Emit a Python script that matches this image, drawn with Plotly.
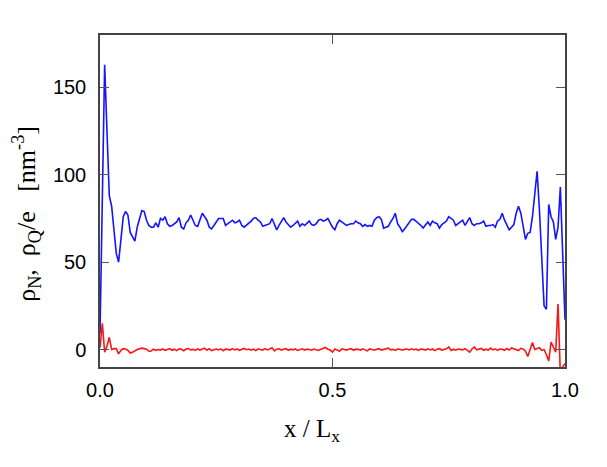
import plotly.graph_objects as go

# Number of bins along x / L_x
n_bins = 200
x_pos = [i / n_bins for i in range(n_bins + 1)]

# rho_N (blue)
rho_N = [
    9, 80, 163, 125, 88, 82, 68, 55, 50, 62,
    76, 79, 77, 67, 64, 62, 70, 75, 79.5, 79,
    74, 71, 70, 70, 72.5, 70, 75, 74, 76, 72,
    70.5, 71, 72, 73, 75.5, 70, 69, 72.5, 74, 77,
    74, 71, 70.5, 74, 78, 76, 74, 70, 69, 71,
    73, 75, 75, 75, 71, 72, 73, 74, 72.5, 73,
    74, 71, 70, 71, 72, 73.5, 75, 75.5, 74, 73,
    70.5, 71, 71.5, 72, 75, 72, 68.5, 71, 73, 75.5,
    73, 71.5, 70, 71, 72, 73.5, 70.5, 72, 71, 72.5,
    73.5, 71.5, 71, 72, 74, 74.5, 73.5, 74, 75, 72.5,
    70, 68.5, 72, 74, 73, 72, 71, 71.5, 72, 72,
    73.5, 72.5, 72, 70.5, 71.5, 70.5, 71, 70.5, 74, 75.5,
    76, 74.5, 69.5, 70, 70.5, 73, 75, 78, 72, 70,
    67.5, 69, 71, 73, 74.5, 74.5, 73.5, 72, 71, 69.5,
    71, 73, 71, 73.5, 72.5, 72, 69.5, 71.5, 72.5, 73.5,
    76, 75, 74, 71, 72, 72.5, 74, 71, 73, 75.5,
    72, 71, 72, 72, 72.5, 73.5, 70.5, 71, 71, 71.5,
    70, 73.5, 74.5, 78, 74, 71, 68.5, 70, 71.5, 78,
    82, 78, 70, 63, 66.5, 67, 76, 88, 102, 80,
    52, 25, 23, 83, 76, 73, 63, 70, 93, 55,
    17,
]

# rho_Q / e (red)
rho_Q = [
    1, 15, -1.5, 2, 7, 0, 0.5, 0.5, -2.5, -0.5,
    0.5, 0.3, -0.5, -2, -1.5, -0.5, 0, 0.5, 0.8, 0.5,
    0.2, -1, -0.8, 0.2, -0.5, 0, -0.3, 0.3, -0.5, 0,
    0.5, -0.4, 0.2, -0.6, 0.4, 0.1, -0.7, 0.3, 0.6, -0.2,
    0.1, -0.5, 0.4, -0.3, 0.2, 0.8, -0.4, 0.5, -0.6, 0,
    0.3, -0.2, 0.4, -0.7, 0.2, 0.1, -0.3, 0.5, -0.2, 0.3,
    -0.5, 0.2, 0.6, -0.1, 0.3, -0.4, 0.2, -0.6, 0.4, 0,
    -0.3, 0.5, -0.2, 0.3, 1.0, -0.8, 0.2, 0.4, -0.3, 0.1,
    0.5, -0.4, 0.2, -0.2, 0.3, -0.5, 0.1, 0.4, -0.3, 0.2,
    0, -0.4, 0.3, 0.1, -0.5, 0.2, 0.5, 1.2, 0.2, -0.3,
    -1.5, 0.3, -0.2, -1.0, 0.4, 0.1, -0.3, 0.2, 0.5, -0.4,
    0.2, 0.1, -0.3, 0.4, -0.2, -0.8, 0.3, 0.1, -0.4, 0.2,
    0.5, -0.3, 0.1, 0.3, 0.8, -0.2, 0.1, -0.5, 0.3, 0.2,
    -0.4, 0.1, 0.3, -0.2, 0.4, -0.1, 0.2, -0.5, 0.3, 0.1,
    -0.3, 0.4, -0.2, 0.3, -0.6, 0.2, 0.5, -0.3, 0.1, 0.4,
    1.5, -0.5, 0.2, -0.4, 0.3, 0.1, -0.2, 0.5, -0.6, -1.5,
    0.3, 1.5, -0.2, 0.1, 0.6, -0.4, 0.2, -0.3, 0.8, -0.2,
    0.4, -0.5, 0.3, 0.2, -0.4, 0.6, -0.3, 0.9, 0.5, 0.1,
    -0.6, 0.7, 0.3, -1, -4, 0, 4, 0, 0.5, 1,
    -0.5, 0, -3, -6.5, 4.3, 1.5, -1.5, 26, -14, -10,
    -8,
]

y_ticks = [0, 50, 100, 150]
x_ticks = [0, 0.5, 1.0]
x_tick_text = ["0.0", "0.5", "1.0"]

fig = go.Figure()
fig.add_trace(go.Scatter(x=x_pos, y=rho_N, mode="lines",
                         line=dict(color="#1414ff", width=1.6), showlegend=False))
fig.add_trace(go.Scatter(x=x_pos, y=rho_Q, mode="lines",
                         line=dict(color="#ff1414", width=1.6), showlegend=False))

axis_common = dict(
    showgrid=False, zeroline=False, showline=True, linecolor="#444444",
    linewidth=1.5, mirror="allticks", ticks="inside", ticklen=9,
    tickcolor="#555555", tickwidth=1.2,
    tickfont=dict(family="Liberation Sans, Arial, sans-serif", size=20, color="black"),
)

fig.update_layout(
    width=607, height=467,
    margin=dict(l=92, r=50, t=27, b=108),
    paper_bgcolor="white", plot_bgcolor="white",
    xaxis=dict(range=[0, 1], tickvals=x_ticks, ticktext=x_tick_text,
               ticklabelstandoff=4, **axis_common),
    yaxis=dict(range=[-10, 180], tickvals=y_ticks, ticklabelstandoff=8, **axis_common),
    annotations=[
        dict(text="ρ<sub>N</sub>,\u00a0\u00a0ρ<sub>Q</sub>/e\u00a0\u00a0\u00a0[nm<sup>-3</sup>]",
             xref="paper", yref="paper", x=-0.158, y=0.46,
             xanchor="center", yanchor="middle", textangle=-90, showarrow=False,
             font=dict(family="Liberation Serif, Times New Roman, serif", size=26, color="black")),
        dict(text="x / L<sub>x</sub>",
             xref="paper", yref="paper", x=0.456, y=-0.19,
             xanchor="center", yanchor="middle", showarrow=False,
             font=dict(family="Liberation Serif, Times New Roman, serif", size=25, color="black")),
    ],
)

fig.write_html("out.html")
